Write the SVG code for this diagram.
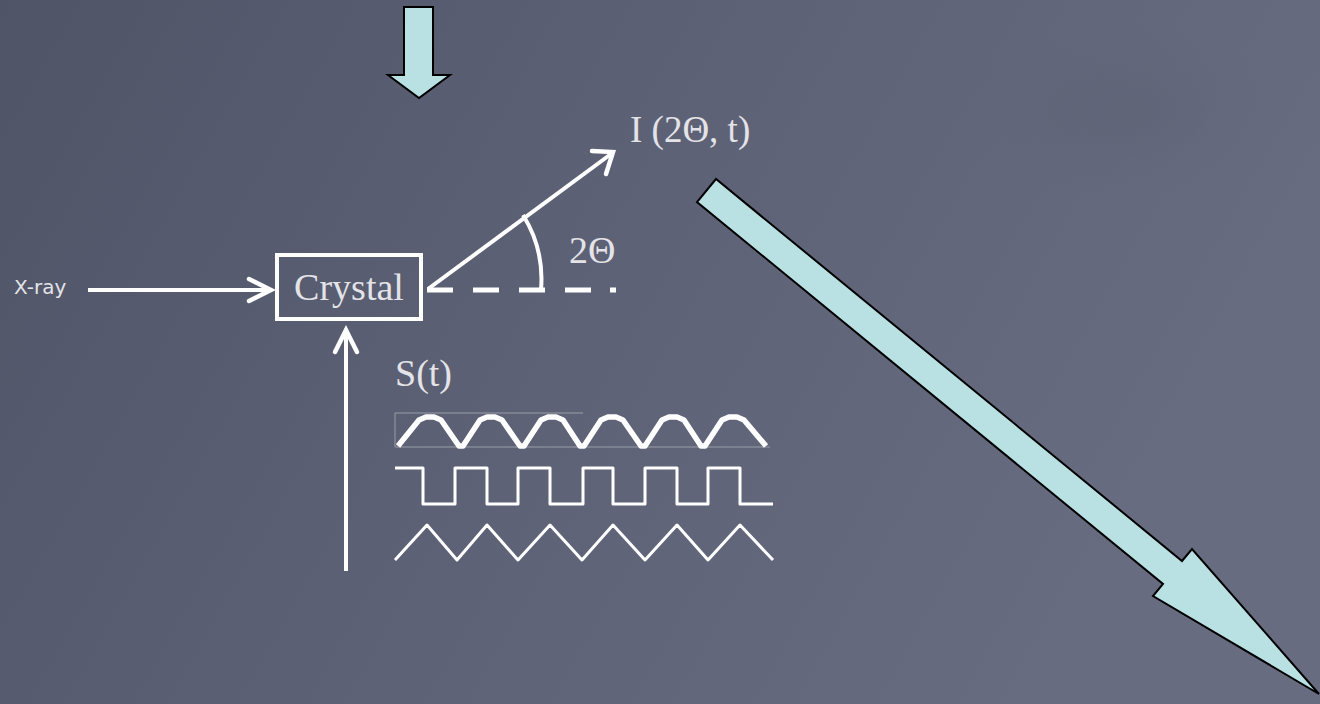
<svg xmlns="http://www.w3.org/2000/svg" width="1320" height="704" viewBox="0 0 1320 704">
<defs>
<linearGradient id="bg" x1="0" y1="0" x2="1" y2="0.3">
<stop offset="0" stop-color="#4f5467"/>
<stop offset="0.5" stop-color="#5d6175"/>
<stop offset="1" stop-color="#686c81"/>
</linearGradient>
<radialGradient id="spot" cx="0.5" cy="0.5" r="0.5">
<stop offset="0" stop-color="#5c6474" stop-opacity="0.6"/>
<stop offset="1" stop-color="#5c6474" stop-opacity="0"/>
</radialGradient>
<style>
.w{fill:none;stroke:#ffffff;stroke-width:4;stroke-linecap:butt;stroke-linejoin:round}
.chev{fill:none;stroke:#ffffff;stroke-width:4.5;stroke-linecap:round;stroke-linejoin:miter}
.bigarrow{fill:#b9e0e3;stroke:#000000;stroke-width:2;stroke-linejoin:miter}
.serif{font-family:"Liberation Serif","Times New Roman",serif;fill:#e4e4e8}
.sans{font-family:"DejaVu Sans","Liberation Sans",sans-serif;fill:#e4e4e8}
</style>
</defs>
<rect x="0" y="0" width="1320" height="704" fill="url(#bg)"/>
<ellipse cx="1120" cy="110" rx="160" ry="90" fill="url(#spot)"/>

<g id="connectors">
<line class="w" x1="88" y1="290" x2="268" y2="290"/>
<polyline class="chev" points="249,279 271,290 249,301"/>
<line class="w" x1="346" y1="571" x2="346" y2="330"/>
<polyline class="chev" points="335,352 346,330 357,352"/>
<line class="w" x1="428" y1="289" x2="611" y2="154"/>
<polyline class="chev" points="592,151 613,152 606,174"/>
<path class="w" d="M 523,215 A 122 122 0 0 1 541,290"/>
<line x1="427" y1="290" x2="620" y2="290" stroke="#ffffff" stroke-width="5" stroke-dasharray="26 20 26 20 26 20 26 19 6 50"/>
</g>

<g id="crystal">
<rect x="277" y="255" width="144" height="64" fill="none" stroke="#ffffff" stroke-width="4"/>
<text class="serif" x="349" y="300" font-size="38" text-anchor="middle">Crystal</text>
</g>

<g id="xray-label">
<text class="sans" x="14" y="294" font-size="20">X-ray</text>
</g>

<g id="intensity-label">
<text class="serif" x="630" y="142" font-size="37">I (2Θ, t)</text>
</g>

<g id="angle-label">
<text class="serif" x="569" y="263" font-size="38">2Θ</text>
</g>

<g id="signals">
<text class="serif" x="395" y="386" font-size="38">S(t)</text>
<path d="M 583,413 L 395,413 L 395,447 L 770,447" fill="none" stroke="#9a9ca6" stroke-width="1"/>
<polyline fill="none" stroke="#ffffff" stroke-width="5.5" stroke-linejoin="round" points="398,446 419,420 426,417 434,417 441,420 459,446 463,446 480,420 487,417 495,417 502,420 520,446 524,446 541,420 548,417 556,417 563,420 580,446 584,446 601,420 608,417 616,417 623,420 641,446 645,446 662,420 669,417 677,417 684,420 701,446 705,446 722,420 729,417 737,417 744,420 766,446"/>
<polyline fill="none" stroke="#ffffff" stroke-width="3" stroke-linejoin="round" points="395,468 423,468 423,504 455,504 455,468 487,468 487,504 518,504 518,468 550,468 550,504 583,504 583,468 613,468 613,504 645,504 645,468 677,468 677,504 708,504 708,468 740,468 740,504 773,504"/>
<polyline fill="none" stroke="#ffffff" stroke-width="3" stroke-linejoin="round" points="395,560 427,525 457,560 487,525 518,560 550,525 582,560 613,525 645,560 677,525 708,560 740,525 773,560"/>
</g>

<g id="down-arrow">
<polygon class="bigarrow" points="404,7 433,7 433,75 450,75 419,98 388,75 404,75"/>
</g>

<g id="diagonal-arrow">
<polygon class="bigarrow" points="716,179 697,202 1163,584 1153,596 1319,694 1192,549 1182,561"/>
</g>
</svg>
